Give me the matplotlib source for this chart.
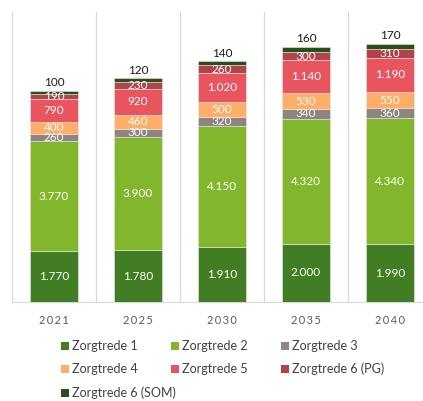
import numpy as np
import matplotlib
matplotlib.use("Agg")
import matplotlib.pyplot as plt
from matplotlib.patches import Rectangle

years = ["2021", "2025", "2030", "2035", "2040"]
series = ["Zorgtrede 1", "Zorgtrede 2", "Zorgtrede 3", "Zorgtrede 4",
          "Zorgtrede 5", "Zorgtrede 6 (PG)", "Zorgtrede 6 (SOM)"]
zt1 = [1770, 1780, 1910, 2000, 1990]
zt2 = [3770, 3900, 4150, 4320, 4340]
zt3 = [260, 300, 320, 340, 360]
zt4 = [400, 460, 500, 530, 550]
zt5 = [790, 920, 1020, 1140, 1190]
zt6_pg = [190, 230, 260, 300, 310]
zt6_som = [100, 120, 140, 160, 170]
colors = ["#417E23", "#82B72D", "#8E8580", "#FEAE68", "#E8555F", "#B3434A", "#2A4E1A"]

plt.rcParams['font.family'] = ['Lato', 'DejaVu Sans']


def fmt(v):
    return f"{v:,}".replace(",", ".")


W, H = 423, 401
fig = plt.figure(figsize=(W / 100, H / 100), dpi=100)
ax = fig.add_axes([12 / W, (H - 302) / H, 420 / W, 290 / H])

data = [zt1, zt2, zt3, zt4, zt5, zt6_pg, zt6_som]
x = np.arange(len(years))
bottom = np.zeros(len(years))
for i, (vals, col) in enumerate(zip(data, colors)):
    vals = np.array(vals, dtype=float)
    ax.bar(x, vals, 0.56, bottom=bottom, color=col, edgecolor="#e8e8e8",
           linewidth=0.4, zorder=3)
    if i < 6:
        for xi, b, v in zip(x, bottom, vals):
            ax.text(xi, b + v / 2, fmt(int(v)), ha="center", va="center",
                    color="white", fontsize=8.5, zorder=4)
    else:
        for xi, b, v in zip(x, bottom, vals):
            ax.text(xi, b + v + 90, fmt(int(v)), ha="center", va="bottom",
                    color="#1a1a1a", fontsize=8.5, zorder=4)
    bottom += vals

ax.set_xlim(-0.5, len(years) - 0.5)
ax.set_ylim(0, 10000)
for b in np.arange(-0.5, len(years), 1.0):
    ax.axvline(b, color="#d9d9d9", lw=0.9, zorder=1)
for s in ["top", "right", "left"]:
    ax.spines[s].set_visible(False)
ax.spines["bottom"].set_color("#d9d9d9")
ax.set_yticks([])
ax.set_xticks(x)
ax.set_xticklabels(["\u2009".join(y) for y in years], color="#595959", fontsize=8)
ax.tick_params(axis="x", length=0, pad=9)

# legend, row-wise in 3 columns
col_x = [61, 171, 281]
row_y = [346, 369, 393]
for k, (name, col) in enumerate(zip(series, colors)):
    r, c = divmod(k, 3)
    px, py = col_x[c], row_y[r]
    fig.add_artist(Rectangle((px / W, 1 - (py + 4) / H), 8 / W, 8 / H,
                             transform=fig.transFigure, facecolor=col,
                             edgecolor="none"))
    fig.text((px + 11) / W, 1 - py / H, name, ha="left", va="center",
             fontsize=9, color="#404040")

fig.savefig("out.png", dpi=100)
